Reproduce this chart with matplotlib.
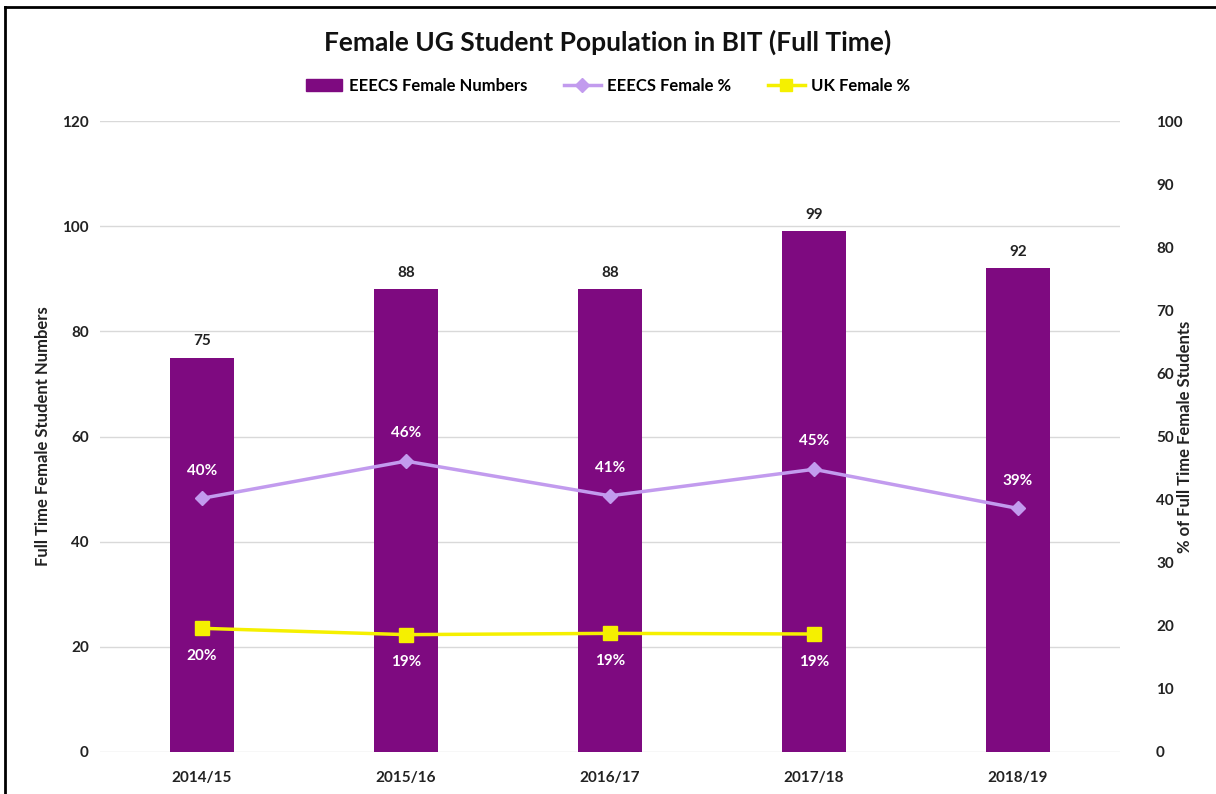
import matplotlib.pyplot as plt
import numpy as np
from matplotlib.lines import Line2D

plt.rcParams['font.family'] = ['Lato', 'DejaVu Sans']

years = ['2014/15', '2015/16', '2016/17', '2017/18', '2018/19']
female_numbers = [75, 88, 88, 99, 92]
eeecs_pct = [40.2, 46.1, 40.6, 44.8, 38.6]
uk_pct = [19.6, 18.6, 18.8, 18.7]

bar_color = '#7E0A80'
eeecs_color = '#C29BEE'
uk_color = '#F5F000'

fig = plt.figure(figsize=(12.16, 7.94), dpi=100)
ax = fig.add_axes([0.0822, 0.0529, 0.8388, 0.7947])
ax2 = ax.twinx()

x = np.arange(len(years))
bars = ax.bar(x, female_numbers, width=0.31, color=bar_color, zorder=2)
for xi, v in zip(x, female_numbers):
    ax.text(xi, v + 1.8, str(v), ha='center', va='bottom', fontsize=11,
            fontweight='bold', color='#222222')

ax.set_ylim(0, 120)
ax.set_yticks(np.arange(0, 121, 20))
ax.set_xlim(-0.5, 4.5)
ax.set_xticks(x)
ax.set_xticklabels(years, fontsize=11, fontweight='bold')
ax.grid(axis='y', color='#d9d9d9', linewidth=1, zorder=0)
ax.set_axisbelow(True)
ax.tick_params(length=0, labelsize=11, colors='#222222', pad=8)
ax.tick_params(axis='x', pad=14)
for lbl in ax.get_yticklabels():
    lbl.set_fontweight('bold')
ax.set_ylabel('Full Time Female Student Numbers', fontsize=12, fontweight='bold',
              color='#222222', labelpad=8)
for s in ax.spines.values():
    s.set_visible(False)

ax2.plot(x, eeecs_pct, color=eeecs_color, linewidth=2.5, marker='D',
         markersize=7, zorder=3)
ax2.plot(x[:len(uk_pct)], uk_pct, color=uk_color, linewidth=2.5, marker='s',
         markersize=10, zorder=3)
for xi, v in zip(x, eeecs_pct):
    ax2.text(xi, v + 3.3, f'{v:.0f}%', ha='center', va='bottom', fontsize=11,
             fontweight='bold', color='white')
for xi, v in zip(x, uk_pct):
    ax2.text(xi, v - 3.3, f'{v:.0f}%', ha='center', va='top', fontsize=11,
             fontweight='bold', color='white')

ax2.set_ylim(0, 100)
ax2.set_yticks(np.arange(0, 101, 10))
ax2.tick_params(length=0, labelsize=11, colors='#222222', pad=26)
for lbl in ax2.get_yticklabels():
    lbl.set_fontweight('bold')
ax2.set_ylabel('% of Full Time Female Students', fontsize=12, fontweight='bold',
               color='#222222', labelpad=-4)
for s in ax2.spines.values():
    s.set_visible(False)

fig.text(0.5, 0.947, 'Female UG Student Population in BIT (Full Time)',
         ha='center', va='center', fontsize=19, fontweight='bold', color='#111111')

handles = [
    plt.Rectangle((0, 0), 1, 1, color=bar_color),
    Line2D([0], [0], color=eeecs_color, linewidth=2.5, marker='D', markersize=7),
    Line2D([0], [0], color=uk_color, linewidth=2.5, marker='s', markersize=8),
]
fig.legend(handles, ['EEECS Female Numbers', 'EEECS Female %', 'UK Female %'],
           loc='center', bbox_to_anchor=(0.5, 0.892), ncol=3, frameon=False,
           prop={'size': 12, 'weight': 'bold'}, handlelength=2.2,
           columnspacing=2.2, handletextpad=0.4)

# figure border (left and top only)
fig.add_artist(Line2D([0.004, 0.004], [0, 0.991], color='black', linewidth=2,
                      transform=fig.transFigure))
fig.add_artist(Line2D([0.004, 1.0], [0.991, 0.991], color='black', linewidth=2,
                      transform=fig.transFigure))

fig.savefig('out.png', dpi=100)
